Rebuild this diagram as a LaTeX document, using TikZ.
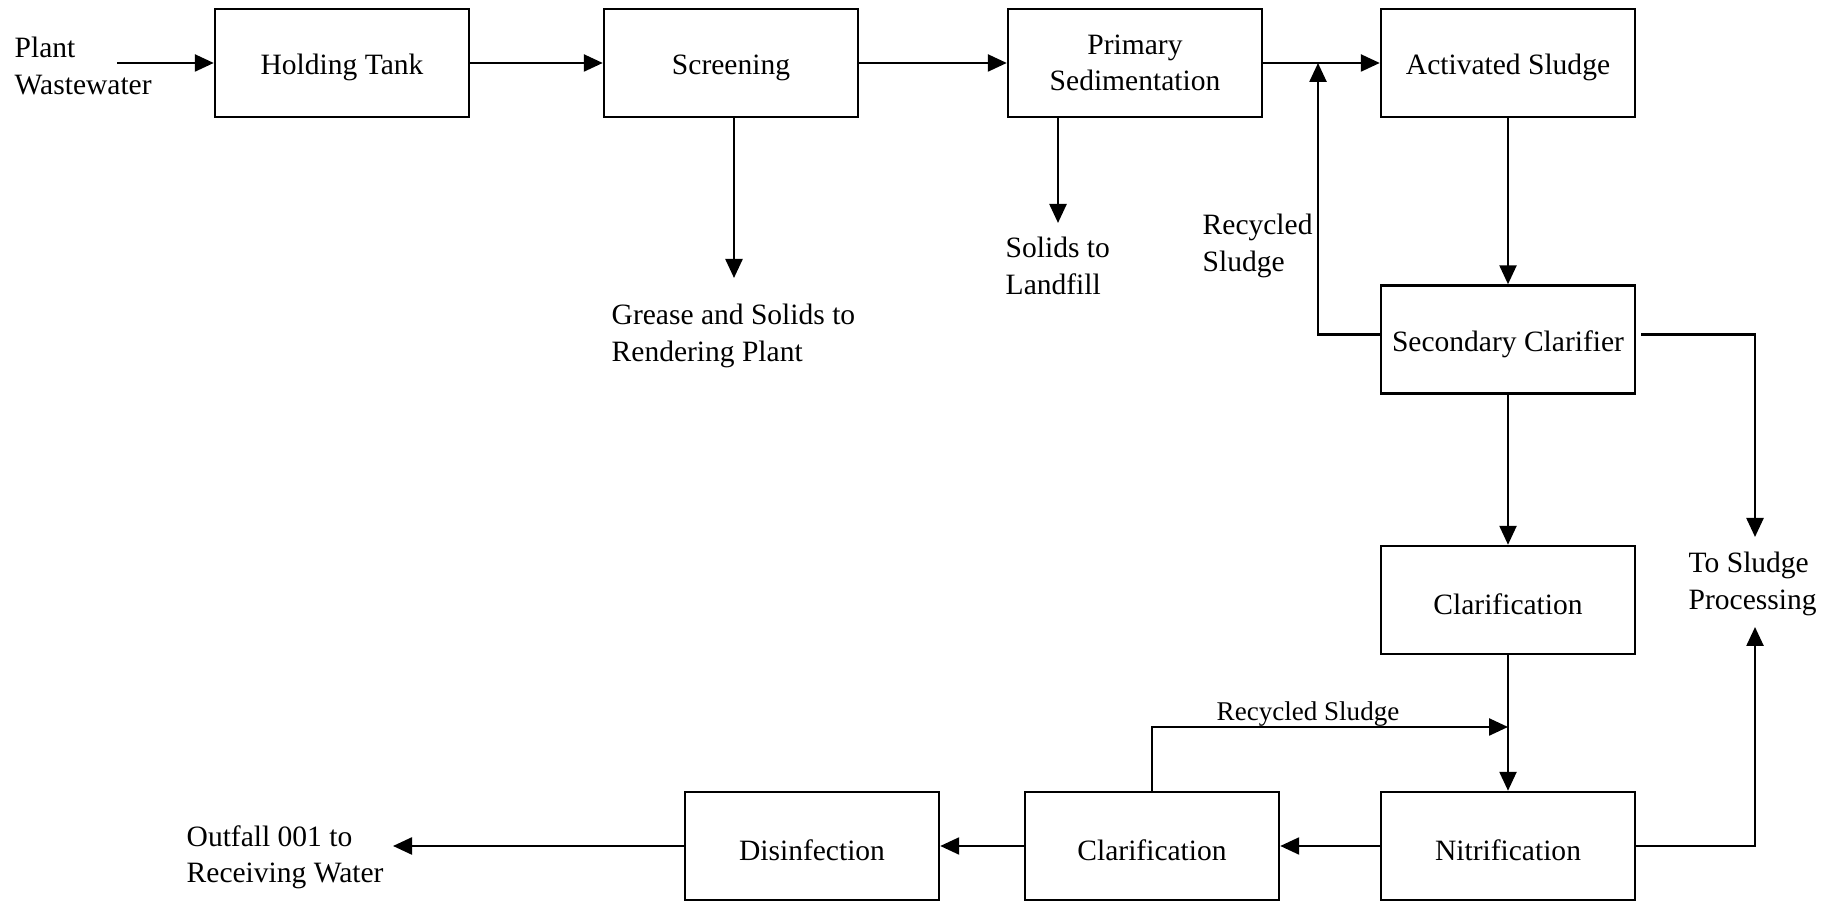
\documentclass[tikz,border=0pt]{standalone}
\usepackage{fontspec}
\setmainfont{Liberation Serif}
\usetikzlibrary{arrows.meta}

\begin{document}
\begin{tikzpicture}[
    font=\fontsize{8.4}{10.3}\selectfont,
    procbox/.style={draw, line width=0.7pt, minimum width=2.54cm, minimum height=1.08cm,
      align=center, inner sep=1pt, execute at begin node={\rule{0pt}{3mm}}},
    lbl/.style={align=left, anchor=west, inner sep=0pt},
    flow/.style={line width=0.7pt, -{Triangle[length=1.9mm,width=1.7mm]}}]
  % rows and the sludge line
  \def\ytop{8.38}
  \def\ysc{5.615}
  \def\ycl{3.01}
  \def\ybot{0.55}
  \def\xr{17.55}

  \useasboundingbox (0,0) rectangle (18.39,9.01);

  % process units
  \node[procbox] (ht)  at (3.42,\ytop)   {Holding Tank};
  \node[procbox] (scr) at (7.31,\ytop)   {Screening};
  \node[procbox] (ps)  at (11.35,\ytop)  {Primary\\Sedimentation};
  \node[procbox] (as)  at (15.08,\ytop)  {Activated Sludge};
  \node[procbox] (sc)  at (15.08,\ysc)   {Secondary Clarifier};
  \node[procbox] (clar) at (15.08,\ycl)  {Clarification};
  \node[procbox] (nit) at (15.08,\ybot)  {Nitrification};
  \node[procbox] (clartwo) at (11.52,\ybot) {Clarification};
  \node[procbox] (dis) at (8.12,\ybot)   {Disinfection};

  % free text
  \node[lbl] (pw)  at (0.14,8.35)  {Plant\\Wastewater};
  \node[lbl] (gs)  at (6.11,5.65)  {Grease and Solids to\\Rendering Plant};
  \node[lbl] (sl)  at (10.05,6.35) {Solids to\\Landfill};
  \node[lbl] (rs)  at (12.02,6.55) {Recycled\\Sludge};
  \node[lbl] (tsp) at (16.88,3.17) {To Sludge\\Processing};
  \node[lbl] (of)  at (1.86,0.44)  {Outfall 001 to\\Receiving Water};
  \node[font=\fontsize{7.7}{9}\selectfont] (rsb) at (13.08,1.87) {Recycled Sludge};

  % loose ends
  \coordinate (in)       at (1.17,\ytop);
  \coordinate (grease)   at (7.34,6.23);
  \coordinate (landfill) at (10.58,6.78);
  \coordinate (rj)       at (13.18,\ytop);
  \coordinate (sp1)      at (\xr,3.64);
  \coordinate (sp2)      at (\xr,2.74);
  \coordinate (out)      at (3.93,\ybot);
  \coordinate (rj2)      at (15.08,1.74);

  % main line
  \draw[flow] (in) -- (ht);
  \draw[flow] (ht) -- (scr);
  \draw[flow] (scr) -- (ps);
  \draw[flow] (ps) -- (as);
  \draw[flow] (as) -- (sc);
  \draw[flow] (sc) -- (clar);
  \draw[flow] (clar) -- (nit);
  \draw[flow] (nit) -- (clartwo);
  \draw[flow] (clartwo) -- (dis);
  \draw[flow] (dis) -- (out);

  % side streams
  \draw[flow] (scr.south -| grease) -- (grease);
  \draw[flow] (ps.south -| landfill) -- (landfill);
  \draw[flow] ([yshift=0.5mm]sc.west) -| (rj);
  \draw[flow] ([shift={(0.5mm,0.5mm)}]sc.east) -| (sp1);
  \draw[flow] (nit.east) -| (sp2);
  \draw[flow] (clartwo.north) |- (rj2);
\end{tikzpicture}
\end{document}
